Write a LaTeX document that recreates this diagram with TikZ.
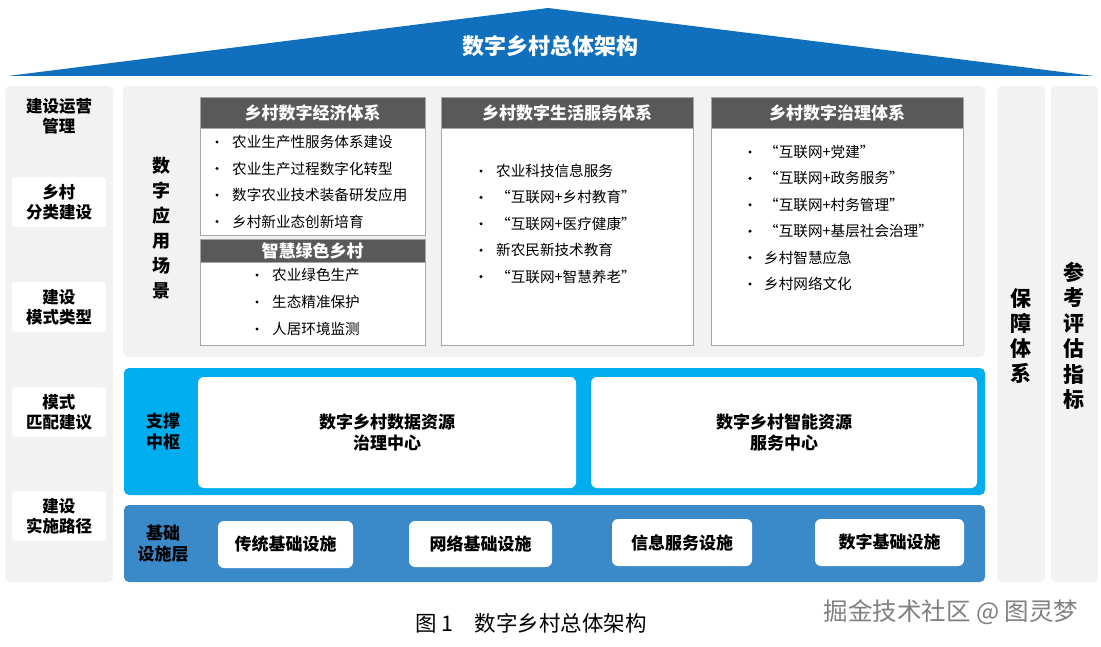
\documentclass[tikz,border=0pt]{standalone}
\usepackage{fontspec}
\setmainfont{Noto Sans CJK SC}
\usetikzlibrary{positioning}
\definecolor{dvroof}{HTML}{1070BE}
\definecolor{dvcyan}{HTML}{00AEEF}
\definecolor{dvblue}{HTML}{3A89C9}
\definecolor{dvgray}{HTML}{F2F2F2}
\definecolor{dvhead}{HTML}{595959}
\definecolor{dvline}{HTML}{A6A6A6}
\newcommand\dvsize[2]{\fontsize{#1}{#2}\selectfont}
\tikzset{
 dv panel/.style={fill=dvgray,rounded corners=5pt},
 dv tag/.style={fill=white,rounded corners=3pt,minimum width=94pt,minimum height=50pt,
                align=center,inner sep=0pt,font=\bfseries\dvsize{16.5}{20}},
 dv vert/.style={align=center,inner sep=0pt,font=\bfseries\dvsize{18}{25}},
 dv head/.style={fill=dvhead,draw=dvline,text=white,inner sep=0pt,
                 font=\bfseries\dvsize{17}{20}},
 dv body/.style={fill=white,draw=dvline},
 dv item/.style={anchor=west,inner sep=0pt,font=\dvsize{14.6}{17}},
 dv dot/.style={circle,fill=black,inner sep=0pt,minimum size=3.4pt},
 dv cell/.style={fill=white,rounded corners=6pt,inner sep=0pt,align=center,
                 font=\bfseries\dvsize{17}{21}}
}
\begin{document}
\begin{tikzpicture}[x=1pt,y=-1pt]
 \useasboundingbox (0,0) rectangle (1101,647);
 \fill[white] (0,0) rectangle (1101,647);
 % roof
 \fill[dvroof] (8,76) -- (548,8) -- (1094,76) -- cycle;
 \node[text=white,font=\bfseries\dvsize{22}{24}] (title) at (550,46) {数字乡村总体架构};
 % left column
 \fill[dv panel] (5,86) rectangle (113,582);
 \node[dv tag,fill=none] (tag1) at (59,116) {建设运营\\管理};
 \node[dv tag] (tag2) at (59,202) {乡村\\分类建设};
 \node[dv tag] (tag3) at (59,307) {建设\\模式类型};
 \node[dv tag] (tag4) at (59,412) {模式\\匹配建议};
 \node[dv tag] (tag5) at (59,516) {建设\\实施路径};
 % right columns
 \fill[dv panel] (997,86) rectangle (1045,582);
 \fill[dv panel] (1051,86) rectangle (1098,582);
 \node[dv vert,font=\bfseries\dvsize{21}{25}] (guard) at (1021,336) {保\\障\\体\\系};
 \node[dv vert,font=\bfseries\dvsize{21}{25.5}] (eval) at (1074,336) {参\\考\\评\\估\\指\\标};
 % application scenes
 \fill[dv panel] (123,86) rectangle (985,357);
 \node[dv vert] (scene) at (161,228) {数\\字\\应\\用\\场\\景};
 \draw[dv body] (200,128) rectangle (425,235);
 \draw[dv body] (200,262) rectangle (425,345);
 \draw[dv body] (441,128) rectangle (693,345);
 \draw[dv body] (711,128) rectangle (963,345);
 \node[dv head,minimum width=225pt,minimum height=31pt] (econ) at (312.5,112.5) {乡村数字经济体系};
 \node[dv head,minimum width=225pt,minimum height=23pt] (green) at (312.5,250.5) {智慧绿色乡村};
 \node[dv head,minimum width=252pt,minimum height=31pt] (life) at (567,112.5) {乡村数字生活服务体系};
 \node[dv head,minimum width=252pt,minimum height=31pt] (gov) at (837,112.5) {乡村数字治理体系};
 \foreach \t [count=\i] in {农业生产性服务体系建设,农业生产过程数字化转型,
                           数字农业技术装备研发应用,乡村新业态创新培育}{
   \node[dv dot] (econd\i) at (217,{142+26.5*(\i-1)}) {};
   \node[dv item] (econ\i) at (232,{142+26.5*(\i-1)}) {\t};
 }
 \foreach \t [count=\i] in {农业绿色生产,生态精准保护,人居环境监测}{
   \node[dv dot] (greend\i) at (257,{275+27*(\i-1)}) {};
   \node[dv item] (green\i) at (272,{275+27*(\i-1)}) {\t};
 }
 \foreach \t [count=\i] in {农业科技信息服务,“互联网+乡村教育”,“互联网+医疗健康”,
                           新农民新技术教育,“互联网+智慧养老”}{
   \node[dv dot] (lifed\i) at (481,{171+26.4*(\i-1)}) {};
   \node[dv item] (life\i) at (496,{171+26.4*(\i-1)}) {\t};
 }
 \foreach \t [count=\i] in {“互联网+党建”,“互联网+政务服务”,“互联网+村务管理”,
                           “互联网+基层社会治理”,乡村智慧应急,乡村网络文化}{
   \node[dv dot] (govd\i) at (750,{152+26.4*(\i-1)}) {};
   \node[dv item] (gov\i) at (764,{152+26.4*(\i-1)}) {\t};
 }
 % support hub
 \fill[dvcyan,rounded corners=5pt] (124,368) rectangle (985,495);
 \node[dv vert,font=\bfseries\dvsize{17}{21}] (hub) at (163,432) {支撑\\中枢};
 \node[dv cell,minimum width=378pt,minimum height=111pt] (data) at (387,432.5)
   {数字乡村数据资源\\治理中心};
 \node[dv cell,minimum width=386pt,minimum height=111pt] (smart) at (784,432.5)
   {数字乡村智能资源\\服务中心};
 % infrastructure layer
 \fill[dvblue,rounded corners=5pt] (124,505) rectangle (985,582);
 \node[dv vert,font=\bfseries\dvsize{17}{21}] (base) at (163,544) {基础\\设施层};
 \node[dv cell,minimum width=135pt,minimum height=47pt] (trad) at (285.5,544.5) {传统基础设施};
 \node[dv cell,minimum width=143pt,minimum height=46pt] (net) at (480.5,544) {网络基础设施};
 \node[dv cell,minimum width=140pt,minimum height=47pt] (info) at (682,542.5) {信息服务设施};
 \node[dv cell,minimum width=149pt,minimum height=47pt] (digi) at (889.5,542.5) {数字基础设施};
 % caption
 \node[font=\dvsize{21.5}{23}] (cap) at (531,623) {图 1\quad 数字乡村总体架构};
 \node[text=gray,font=\dvsize{24.5}{26}] (mark) at (951,612) {掘金技术社区 @ 图灵梦};
\end{tikzpicture}
\end{document}
